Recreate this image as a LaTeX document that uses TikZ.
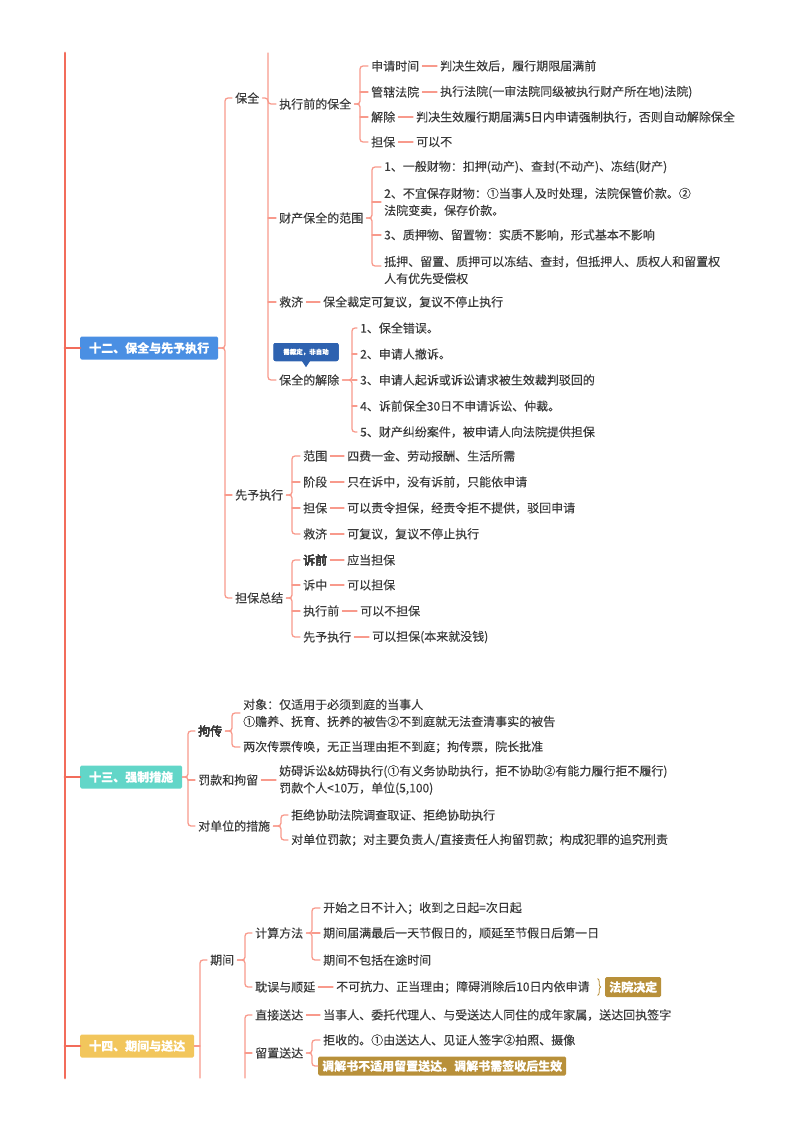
\documentclass[tikz,border=0pt]{standalone}
\usepackage{fontspec}
\setmainfont{Noto Sans CJK SC}[FakeBold=0.15]
\usetikzlibrary{decorations.pathreplacing}
\definecolor{trunkc}{HTML}{F26C5B}
\definecolor{linec}{HTML}{F89A8C}
\definecolor{txtc}{HTML}{3A3A3A}
\definecolor{blueb}{HTML}{4A8FE3}
\definecolor{tealb}{HTML}{62D6C8}
\definecolor{yellowb}{HTML}{F2C65C}
\definecolor{noteb}{HTML}{2E62B0}
\definecolor{goldb}{HTML}{B8903A}
% bracket from a parent to an end child, tick to a middle child, dash to a detail
\newcommand\fork[3]{\draw[branch] (#1.east) -- (#1.east -| #2) |- (#3.west);}
\newcommand\tick[2]{\draw[branch] (#1.west -| #2) -- (#1.west);}
\newcommand\dash[2]{\draw[branch] (#1.east) -- (#2.west);}
\begin{document}
\begin{tikzpicture}[x=1pt,y=-1pt,line cap=round,line join=round,
 font=\fontsize{12}{17}\selectfont,
 trunk/.style={draw=trunkc,line width=2.8pt},
 branch/.style={draw=linec,line width=1.3pt,rounded corners=3pt},
 lbl/.style={anchor=west,inner xsep=3pt,inner ysep=2pt,text=txtc,align=left},
 title/.style={anchor=west,text=white,inner xsep=9pt,minimum height=23pt,
  rounded corners=1.5pt,font=\fontsize{12}{14}\selectfont\bfseries},
 tag/.style={anchor=west,fill=goldb,text=white,inner xsep=4pt,minimum height=20pt,
  rounded corners=1.5pt,font=\fontsize{12}{14}\selectfont\bfseries},
 notebox/.style={fill=noteb,text=white,minimum width=65pt,minimum height=18pt,
  inner sep=1pt,rounded corners=2pt,font=\fontsize{6.5}{7}\selectfont\bfseries}]
 \useasboundingbox (0,0) rectangle (800,1132);
 % trunk
 \coordinate (mtop) at (65,53);
 \coordinate (mbot) at (65,1078);
 \draw[trunk] (mtop) -- (mbot);
 \node[title,fill=blueb] (s12) at (80,348) {十二、保全与先予执行};
 \node[title,fill=tealb] (s13) at (80,777) {十三、强制措施};
 \node[title,fill=yellowb] (s14) at (80,1046) {十四、期间与送达};
 \foreach \s in {s12,s13,s14}
  \draw[trunk] (\s.west -| mtop) -- (\s.west);
 % bracket lines
 \coordinate (c12) at (225,0);
 \coordinate (bqtop) at (268,53);
 \coordinate (czx) at (360,0);
 \coordinate (cfw) at (372,0);
 \coordinate (cjc) at (352,0);
 \coordinate (cxy) at (292,0);
 \coordinate (c13) at (188,0);
 \coordinate (cjz) at (232,0);
 \coordinate (cdw) at (281,0);
 \coordinate (c14bot) at (200,1078);
 \coordinate (cqj) at (245,0);
 \coordinate (cjs) at (312,0);
 \coordinate (sdbot) at (245,1078);
 %%% 十二
 \node[lbl] (baoquan) at (232,98) {保全};
 \node[lbl] (xianyu) at (232,495) {先予执行};
 \node[lbl] (danbao) at (232,598) {担保总结};
 \fork{s12}{c12}{baoquan}
 \fork{s12}{c12}{danbao}
 \tick{xianyu}{c12}
 % 保全
 \node[lbl] (zxq) at (276,104) {执行前的保全};
 \node[lbl] (ccfw) at (276,218) {财产保全的范围};
 \node[lbl] (jiuji) at (276,302) {救济};
 \node[lbl] (jiechu) at (276,380) {保全的解除};
 \draw[branch] (bqtop) |- (jiechu.west);
 \fork{baoquan}{bqtop}{zxq}
 \tick{ccfw}{bqtop}
 \tick{jiuji}{bqtop}
 \node[lbl] (jiuji2) at (320,302) {保全裁定可复议，复议不停止执行};
 \dash{jiuji}{jiuji2}
 % 执行前的保全
 \node[lbl] (sq) at (368,66) {申请时间};
 \node[lbl] (gx) at (368,92) {管辖法院};
 \node[lbl] (jc) at (368,117) {解除};
 \node[lbl] (db) at (368,142) {担保};
 \node[lbl] (sq2) at (437,66) {判决生效后，履行期限届满前};
 \node[lbl] (gx2) at (437,92) {执行法院(一审法院同级被执行财产所在地)法院)};
 \node[lbl] (jc2) at (413,117) {判决生效履行期届满5日内申请强制执行，否则自动解除保全};
 \node[lbl] (db2) at (413,142) {可以不};
 \fork{zxq}{czx}{sq}
 \fork{zxq}{czx}{db}
 \tick{gx}{czx}
 \tick{jc}{czx}
 \dash{sq}{sq2}
 \dash{gx}{gx2}
 \dash{jc}{jc2}
 \dash{db}{db2}
 % 财产保全的范围
 \node[lbl] (f1) at (381,167) {1、一般财物：扣押(动产)、查封(不动产)、冻结(财产)};
 \node[lbl] (f2) at (381,202) {2、不宜保存财物：①当事人及时处理，法院保管价款。②\\法院变卖，保存价款。};
 \node[lbl] (f3) at (381,235) {3、质押物、留置物：实质不影响，形式基本不影响};
 \node[lbl] (f4) at (381,270) {抵押、留置、质押可以冻结、查封，但抵押人、质权人和留置权\\人有优先受偿权};
 \fork{ccfw}{cfw}{f1}
 \draw[branch] (ccfw.east) -- (ccfw.east -| cfw) |- ([yshift=4pt]f4.west);
 \tick{f2}{cfw}
 \tick{f3}{cfw}
 % 保全的解除
 \node[lbl] (j1) at (357,328) {1、保全错误。};
 \node[lbl] (j2) at (357,354) {2、申请人撤诉。};
 \node[lbl] (j3) at (357,380) {3、申请人起诉或诉讼请求被生效裁判驳回的};
 \node[lbl] (j4) at (357,406) {4、诉前保全30日不申请诉讼、仲裁。};
 \node[lbl] (j5) at (357,432) {5、财产纠纷案件，被申请人向法院提供担保};
 \fork{jiechu}{cjc}{j1}
 \fork{jiechu}{cjc}{j5}
 \foreach \j in {j2,j3,j4} \tick{\j}{cjc}
 \node[notebox] (note) at (306,352) {需裁定，非自动};
 \fill[noteb] ([xshift=-4pt]note.south) -- ([xshift=4pt]note.south)
  -- ([yshift=-6pt]note.south) -- cycle;
 % 先予执行
 \node[lbl] (xy1) at (300,456) {范围};
 \node[lbl] (xy2) at (300,482) {阶段};
 \node[lbl] (xy3) at (300,508) {担保};
 \node[lbl] (xy4) at (300,534) {救济};
 \node[lbl] (xy1b) at (344,456) {四费一金、劳动报酬、生活所需};
 \node[lbl] (xy2b) at (344,482) {只在诉中，没有诉前，只能依申请};
 \node[lbl] (xy3b) at (344,508) {可以责令担保，经责令拒不提供，驳回申请};
 \node[lbl] (xy4b) at (344,534) {可复议，复议不停止执行};
 \fork{xianyu}{cxy}{xy1}
 \fork{xianyu}{cxy}{xy4}
 \tick{xy2}{cxy}
 \tick{xy3}{cxy}
 \foreach \k in {xy1,xy2,xy3,xy4} \dash{\k}{\k b}
 % 担保总结
 \node[lbl] (d1) at (300,560) {诉前};
 \node[lbl] (d2) at (300,585) {诉中};
 \node[lbl] (d3) at (300,611) {执行前};
 \node[lbl] (d4) at (300,637) {先予执行};
 \node[lbl] (d1b) at (344,560) {应当担保};
 \node[lbl] (d2b) at (344,585) {可以担保};
 \node[lbl] (d3b) at (357,611) {可以不担保};
 \node[lbl] (d4b) at (369,637) {可以担保(本来就没钱)};
 \fork{danbao}{cxy}{d1}
 \fork{danbao}{cxy}{d4}
 \tick{d2}{cxy}
 \tick{d3}{cxy}
 \foreach \k in {d1,d2,d3,d4} \dash{\k}{\k b}
 %%% 十三
 \node[lbl] (jz) at (195,731) {拘传};
 \node[lbl] (fk) at (195,780) {罚款和拘留};
 \node[lbl] (dw) at (195,826) {对单位的措施};
 \fork{s13}{c13}{jz}
 \fork{s13}{c13}{dw}
 \tick{fk}{c13}
 \node[lbl] (jz1) at (240,713) {对象：仅适用于必须到庭的当事人\\①赡养、抚育、抚养的被告②不到庭就无法查清事实的被告};
 \node[lbl] (jz2) at (240,747) {两次传票传唤，无正当理由拒不到庭；拘传票，院长批准};
 \fork{jz}{cjz}{jz1}
 \fork{jz}{cjz}{jz2}
 \node[lbl] (fk2) at (276,780) {妨碍诉讼\&妨碍执行(①有义务协助执行，拒不协助②有能力履行拒不履行)\\罚款个人<10万，单位(5,100)};
 \dash{fk}{fk2}
 \node[lbl] (dw1) at (288,815) {拒绝协助法院调查取证、拒绝协助执行};
 \node[lbl] (dw2) at (288,840) {对单位罚款；对主要负责人/直接责任人拘留罚款；构成犯罪的追究刑责};
 \fork{dw}{cdw}{dw1}
 \fork{dw}{cdw}{dw2}
 %%% 十四
 \node[lbl] (qj) at (207,960) {期间};
 \draw[branch] (c14bot) |- (qj.west);
 \draw[branch] (s14.east) -- (s14.east -| c14bot);
 \node[lbl] (jsff) at (252,933) {计算方法};
 \node[lbl] (yw) at (252,987) {耽误与顺延};
 \fork{qj}{cqj}{jsff}
 \fork{qj}{cqj}{yw}
 \node[lbl] (js1) at (320,908) {开始之日不计入；收到之日起=次日起};
 \node[lbl] (js2) at (320,933) {期间届满最后一天节假日的，顺延至节假日后第一日};
 \node[lbl] (js3) at (320,960) {期间不包括在途时间};
 \fork{jsff}{cjs}{js1}
 \fork{jsff}{cjs}{js3}
 \tick{js2}{cjs}
 \node[lbl] (yw2) at (333,987) {不可抗力、正当理由；障碍消除后10日内依申请};
 \dash{yw}{yw2}
 \draw[goldb,line width=.8pt,decorate,decoration={brace,amplitude=3pt}]
  ([xshift=5pt]yw2.north east) -- ([xshift=5pt]yw2.south east);
 \node[tag] (fyjd) at (605,987) {法院决定};
 % 送达
 \node[lbl] (zjsd) at (252,1015) {直接送达};
 \node[lbl] (lzsd) at (252,1053) {留置送达};
 \draw[branch] (sdbot) |- (zjsd.west);
 \tick{lzsd}{sdbot}
 \node[lbl] (zjsd2) at (320,1015) {当事人、委托代理人、与受送达人同住的成年家属，送达回执签字};
 \dash{zjsd}{zjsd2}
 \node[lbl] (lz1) at (320,1040) {拒收的。①由送达人、见证人签字②拍照、摄像};
 \node[tag,minimum height=19pt] (lz2) at (318,1066) {调解书不适用留置送达。调解书需签收后生效};
 \fork{lzsd}{cjs}{lz1}
 \fork{lzsd}{cjs}{lz2}
\end{tikzpicture}
\end{document}
